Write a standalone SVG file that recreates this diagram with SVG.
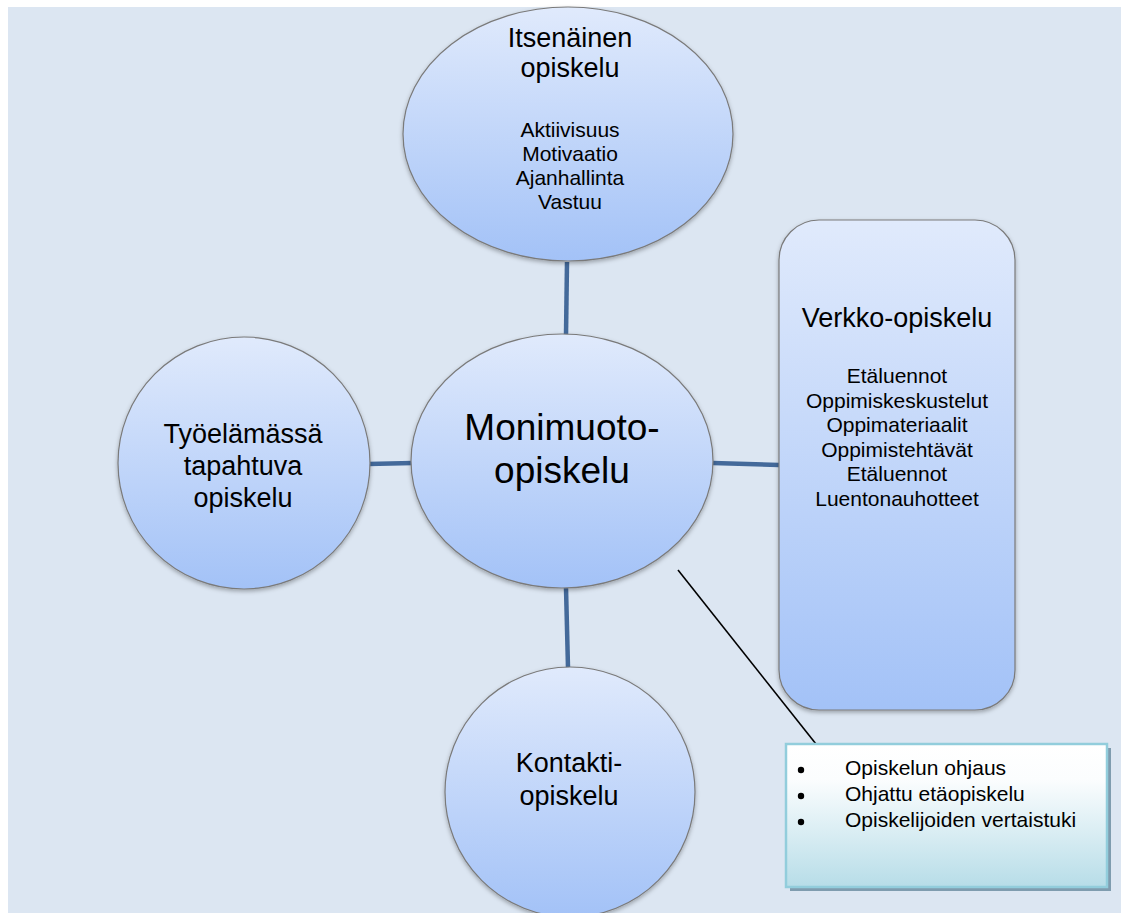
<svg xmlns="http://www.w3.org/2000/svg" width="1121" height="913" viewBox="0 0 1121 913">
<defs>
<linearGradient id="blue" x1="0" y1="0" x2="0" y2="1">
<stop offset="0" stop-color="#e0eafc"/>
<stop offset="1" stop-color="#a3c2f7"/>
</linearGradient>
<linearGradient id="cyan" x1="0" y1="0" x2="0" y2="1">
<stop offset="0" stop-color="#ffffff"/>
<stop offset="0.25" stop-color="#fbfdfe"/>
<stop offset="1" stop-color="#b7dde8"/>
</linearGradient>
<filter id="sh" x="-10%" y="-10%" width="120%" height="120%">
<feDropShadow dx="0" dy="2" stdDeviation="2" flood-color="#000" flood-opacity="0.3"/>
</filter>
</defs>
<style>
.node{fill:url(#blue);stroke:#7a7a7a;stroke-width:1.2;filter:url(#sh)}
.t{font-family:"Liberation Sans",Arial,sans-serif;fill:#000;text-anchor:middle}
.big{font-size:27px}
.small{font-size:21px}
.conn{stroke:#43699a;stroke-width:4.5;fill:none}
</style>
<rect x="8" y="7" width="1113" height="906" fill="#dce6f2"/>
<g id="connectors">
<line class="conn" x1="567" y1="262" x2="566" y2="335"/>
<line class="conn" x1="368" y1="464" x2="413" y2="463"/>
<line class="conn" x1="713" y1="463" x2="779" y2="465"/>
<line class="conn" x1="566" y1="588" x2="568" y2="668"/>
<line x1="678" y1="570" x2="816" y2="744" stroke="#000" stroke-width="1.6"/>
</g>
<g id="itsenainen">
<ellipse class="node" cx="568" cy="134" rx="165" ry="127"/>
<text class="t big" x="570" y="47">Itsenäinen</text>
<text class="t big" x="570" y="77">opiskelu</text>
<text class="t small" x="570" y="137">Aktiivisuus</text>
<text class="t small" x="570" y="161">Motivaatio</text>
<text class="t small" x="570" y="185">Ajanhallinta</text>
<text class="t small" x="570" y="209">Vastuu</text>
</g>
<g id="tyoelama">
<ellipse class="node" cx="244" cy="463" rx="126" ry="126"/>
<text class="t big" x="243" y="443">Työelämässä</text>
<text class="t big" x="243" y="475">tapahtuva</text>
<text class="t big" x="243" y="507">opiskelu</text>
</g>
<g id="verkko">
<rect class="node" x="779" y="220" width="236" height="490" rx="40" ry="40"/>
<text class="t big" x="897" y="327">Verkko-opiskelu</text>
<text class="t small" x="897" y="383">Etäluennot</text>
<text class="t small" x="897" y="407.5">Oppimiskeskustelut</text>
<text class="t small" x="897" y="432">Oppimateriaalit</text>
<text class="t small" x="897" y="456.5">Oppimistehtävät</text>
<text class="t small" x="897" y="481">Etäluennot</text>
<text class="t small" x="897" y="505.5">Luentonauhotteet</text>
</g>
<g id="kontakti">
<ellipse class="node" cx="570" cy="792" rx="125" ry="125"/>
<text class="t big" x="569" y="772">Kontakti-</text>
<text class="t big" x="569" y="805">opiskelu</text>
</g>
<g id="monimuoto">
<ellipse class="node" cx="562" cy="461" rx="151" ry="127"/>
<text class="t" style="font-size:37px" x="562" y="440">Monimuoto-</text>
<text class="t" style="font-size:37px" x="562" y="483">opiskelu</text>
</g>
<g id="callout">
<rect x="790" y="748" width="321" height="143" fill="#7f9caf"/>
<rect x="786" y="744" width="321" height="143" fill="url(#cyan)" stroke="#92cddc" stroke-width="2.5"/>
<circle cx="801" cy="770" r="3.2" fill="#000"/>
<circle cx="801" cy="796" r="3.2" fill="#000"/>
<circle cx="801" cy="822" r="3.2" fill="#000"/>
<text class="t small" style="text-anchor:start" x="845" y="775">Opiskelun ohjaus</text>
<text class="t small" style="text-anchor:start" x="845" y="801">Ohjattu etäopiskelu</text>
<text class="t small" style="text-anchor:start" x="845" y="827">Opiskelijoiden vertaistuki</text>
</g>
</svg>
